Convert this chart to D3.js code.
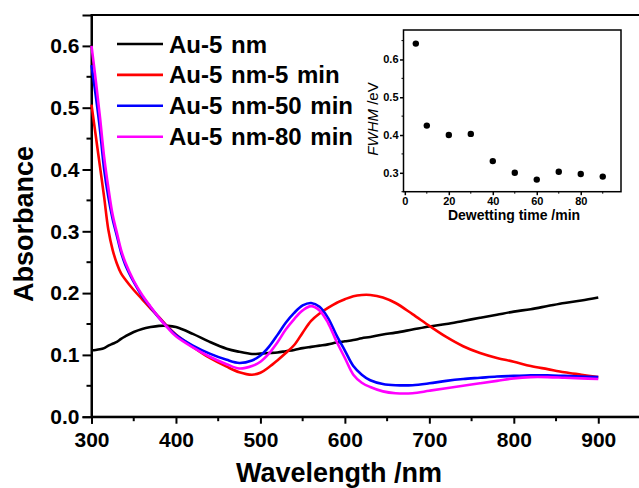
<!DOCTYPE html>
<html>
<head>
<meta charset="utf-8">
<script src="https://cdn.jsdelivr.net/npm/d3@7/dist/d3.min.js"></script>
<style>
    body { margin:0; background:#fff; }
    svg { display:block; font-family:"Liberation Sans", Arial, sans-serif; }
    .tick text { font-weight:bold; fill:#000; }
</style>
</head>
<body>
<svg id="chart"></svg>
<script>
// wavelength grid (nm) shared by all spectra
var wavelengths = [300,305,310,315,320,325,330,335,340,350,360,370,380,390,400,420,440,460,475,490,
                   500,510,520,530,540,550,560,570,580,590,600,610,620,630,645,660,680,700,720,740,
                   760,780,800,820,840,860,880,900];

var au5 = [0.1075,0.108,0.109,0.111,0.115,0.118,0.121,0.126,0.130,0.137,0.142,0.145,0.147,0.147,0.145,0.134,0.121,0.110,0.105,0.1015,
           0.102,0.103,0.104,0.106,0.108,0.111,0.113,0.115,0.117,0.120,0.122,0.124,0.127,0.129,0.133,0.136,0.141,0.146,0.150,0.155,
           0.160,0.165,0.170,0.174,0.179,0.184,0.188,0.193];

var au5min5 = [0.505,0.455,0.405,0.355,0.302,0.270,0.248,0.232,0.222,0.205,0.190,0.175,0.161,0.146,0.133,0.113,0.095,0.081,0.072,0.068,
               0.071,0.080,0.091,0.103,0.116,0.136,0.155,0.167,0.176,0.184,0.190,0.195,0.197,0.197,0.193,0.184,0.166,0.147,0.129,0.114,
               0.103,0.095,0.089,0.082,0.077,0.072,0.068,0.064];

var au5min50 = [0.569,0.520,0.465,0.400,0.355,0.320,0.293,0.266,0.246,0.218,0.195,0.177,0.160,0.145,0.132,0.115,0.102,0.092,0.087,0.091,
                0.099,0.113,0.132,0.152,0.168,0.180,0.184,0.178,0.160,0.132,0.107,0.082,0.068,0.059,0.053,0.051,0.051,0.054,0.058,0.061,
                0.063,0.065,0.066,0.067,0.067,0.066,0.065,0.064];

var au5min80 = [0.600,0.545,0.485,0.420,0.370,0.327,0.298,0.270,0.250,0.220,0.197,0.178,0.160,0.144,0.130,0.112,0.097,0.085,0.078,0.082,
                0.089,0.102,0.120,0.141,0.158,0.172,0.179,0.172,0.152,0.122,0.095,0.068,0.055,0.048,0.041,0.038,0.038,0.042,0.046,0.050,
                0.054,0.058,0.062,0.064,0.064,0.063,0.062,0.061];

var seriesNames = ["Au-5 nm", "Au-5 nm-5 min", "Au-5 nm-50 min", "Au-5 nm-80 min"];
var seriesColors = ["#000000", "#ff0000", "#0000ff", "#ff00ff"];

var xTicks = [300,400,500,600,700,800,900];
var yTicks = [0.0,0.1,0.2,0.3,0.4,0.5,0.6];

// inset: FWHM vs dewetting time
var dewetTimes = [5,10,20,30,40,50,60,70,80,90];
var fwhm = [0.642,0.425,0.400,0.403,0.331,0.300,0.282,0.303,0.297,0.290];
var insetXTicks = [0,20,40,60,80];
var insetYTicks = [0.3,0.4,0.5,0.6];

var screen = {width:639, height:488};
var margins = {top:15, left:91.5};
var graph = {width:549, height:401.7};

var svg = d3.select("#chart")
    .attr("width", screen.width)
    .attr("height", screen.height);

var xScale = d3.scaleLinear()
    .domain([300, 950])
    .range([margins.left, margins.left + graph.width]);

var yScale = d3.scaleLinear()
    .domain([0, 0.65])
    .range([margins.top + graph.height, margins.top]);

// frame
svg.append("rect")
    .attr("x", margins.left)
    .attr("y", margins.top)
    .attr("width", graph.width)
    .attr("height", graph.height)
    .attr("fill", "none")
    .attr("stroke", "#000")
    .attr("stroke-width", 2);

// minor ticks
var xMinor = d3.range(350, 951, 100);
var yMinor = d3.range(0.05, 0.65, 0.1);

svg.append("g")
    .selectAll("line")
    .data(xMinor)
    .enter()
    .append("line")
    .attr("x1", function(d) { return xScale(d); })
    .attr("x2", function(d) { return xScale(d); })
    .attr("y1", yScale(0))
    .attr("y2", yScale(0) + 4.5)
    .attr("stroke", "#000")
    .attr("stroke-width", 2);

svg.append("g")
    .selectAll("line")
    .data(yMinor)
    .enter()
    .append("line")
    .attr("x1", margins.left - 5)
    .attr("x2", margins.left)
    .attr("y1", function(d) { return yScale(d); })
    .attr("y2", function(d) { return yScale(d); })
    .attr("stroke", "#000")
    .attr("stroke-width", 2);

var xAxis = d3.axisBottom(xScale)
    .tickValues(xTicks)
    .tickSize(7)
    .tickPadding(8)
    .tickFormat(d3.format("d"));

var yAxis = d3.axisLeft(yScale)
    .tickValues(yTicks)
    .tickSize(9)
    .tickPadding(3)
    .tickFormat(d3.format(".1f"));

var gx = svg.append("g")
    .attr("transform", "translate(0," + yScale(0) + ")")
    .call(xAxis);
var gy = svg.append("g")
    .attr("transform", "translate(" + margins.left + ",0)")
    .call(yAxis);

[gx, gy].forEach(function(g) {
    g.select(".domain").attr("stroke-width", 2);
    g.selectAll(".tick line").attr("stroke-width", 2);
    g.selectAll(".tick text").style("font-size", "21px");
});

// axis titles
svg.append("text")
    .text("Wavelength /nm")
    .attr("text-anchor", "middle")
    .attr("x", 339)
    .attr("y", 482)
    .style("font-size", "27px")
    .style("font-weight", "bold");

svg.append("g")
    .attr("transform", "translate(33,224)")
    .append("text")
    .text("Absorbance")
    .attr("text-anchor", "middle")
    .attr("transform", "rotate(-90)")
    .style("font-size", "27px")
    .style("font-weight", "bold");

// spectra
var allSeries = [au5, au5min5, au5min50, au5min80];

var line = d3.line()
    .x(function(d, i) { return xScale(wavelengths[i]); })
    .y(function(d) { return yScale(d); })
    .curve(d3.curveCatmullRom.alpha(0.5));

svg.append("g")
    .selectAll("path")
    .data(allSeries)
    .enter()
    .append("path")
    .attr("d", line)
    .attr("fill", "none")
    .attr("stroke", function(d, i) { return seriesColors[i]; })
    .attr("stroke-width", 2.6);

// legend
var legend = svg.append("g")
    .selectAll("g")
    .data(seriesNames)
    .enter()
    .append("g")
    .attr("transform", function(d, i) { return "translate(117," + (44 + i * 30.9) + ")"; });

legend.append("line")
    .attr("x1", 0)
    .attr("x2", 46)
    .attr("stroke", function(d, i) { return seriesColors[i]; })
    .attr("stroke-width", 2.6);

legend.append("text")
    .text(function(d) { return d; })
    .attr("x", 52)
    .attr("y", 8.5)
    .style("font-size", "24px")
    .style("word-spacing", "2px")
    .style("font-weight", "bold");

// inset
var inset = {left:403.5, right:621, top:30, bottom:191.7};

var ixScale = d3.scaleLinear()
    .domain([-0.6, 98.3])
    .range([inset.left, inset.right]);

var iyScale = d3.scaleLinear()
    .domain([0.25, 0.678])
    .range([inset.bottom, inset.top]);

svg.append("rect")
    .attr("x", inset.left)
    .attr("y", inset.top)
    .attr("width", inset.right - inset.left)
    .attr("height", inset.bottom - inset.top)
    .attr("fill", "none")
    .attr("stroke", "#000")
    .attr("stroke-width", 1.5);

svg.append("g")
    .selectAll("line")
    .data(d3.range(10, 91, 20))
    .enter()
    .append("line")
    .attr("x1", function(d) { return ixScale(d); })
    .attr("x2", function(d) { return ixScale(d); })
    .attr("y1", inset.bottom)
    .attr("y2", inset.bottom + 2)
    .attr("stroke", "#000");

svg.append("g")
    .selectAll("line")
    .data([0.25, 0.35, 0.45, 0.55, 0.65])
    .enter()
    .append("line")
    .attr("x1", inset.left - 2)
    .attr("x2", inset.left)
    .attr("y1", function(d) { return iyScale(d); })
    .attr("y2", function(d) { return iyScale(d); })
    .attr("stroke", "#000");

var igx = svg.append("g")
    .attr("transform", "translate(0," + inset.bottom + ")")
    .call(d3.axisBottom(ixScale).tickValues(insetXTicks).tickSize(3.5).tickPadding(2));
var igy = svg.append("g")
    .attr("transform", "translate(" + inset.left + ",0)")
    .call(d3.axisLeft(iyScale).tickValues(insetYTicks).tickSize(3.5).tickPadding(1.5).tickFormat(d3.format(".1f")));

[igx, igy].forEach(function(g) {
    g.select(".domain").remove();
    g.selectAll(".tick line").attr("stroke-width", 1.5);
    g.selectAll(".tick text").style("font-size", "11px");
});

svg.append("g")
    .selectAll("circle")
    .data(fwhm)
    .enter()
    .append("circle")
    .attr("cx", function(d, i) { return ixScale(dewetTimes[i]); })
    .attr("cy", function(d) { return iyScale(d); })
    .attr("r", 3.2)
    .attr("fill", "#000");

svg.append("text")
    .text("Dewetting time /min")
    .attr("text-anchor", "middle")
    .attr("x", 514)
    .attr("y", 220)
    .style("font-size", "14px")
    .style("font-weight", "bold");

var fw = svg.append("g")
    .attr("transform", "translate(378,119)")
    .append("text")
    .attr("text-anchor", "middle")
    .attr("transform", "rotate(-90)")
    .style("font-size", "15px");
fw.append("tspan").text("FWHM").style("font-style", "italic");
fw.append("tspan").text(" /eV");
</script>
</body>
</html>
